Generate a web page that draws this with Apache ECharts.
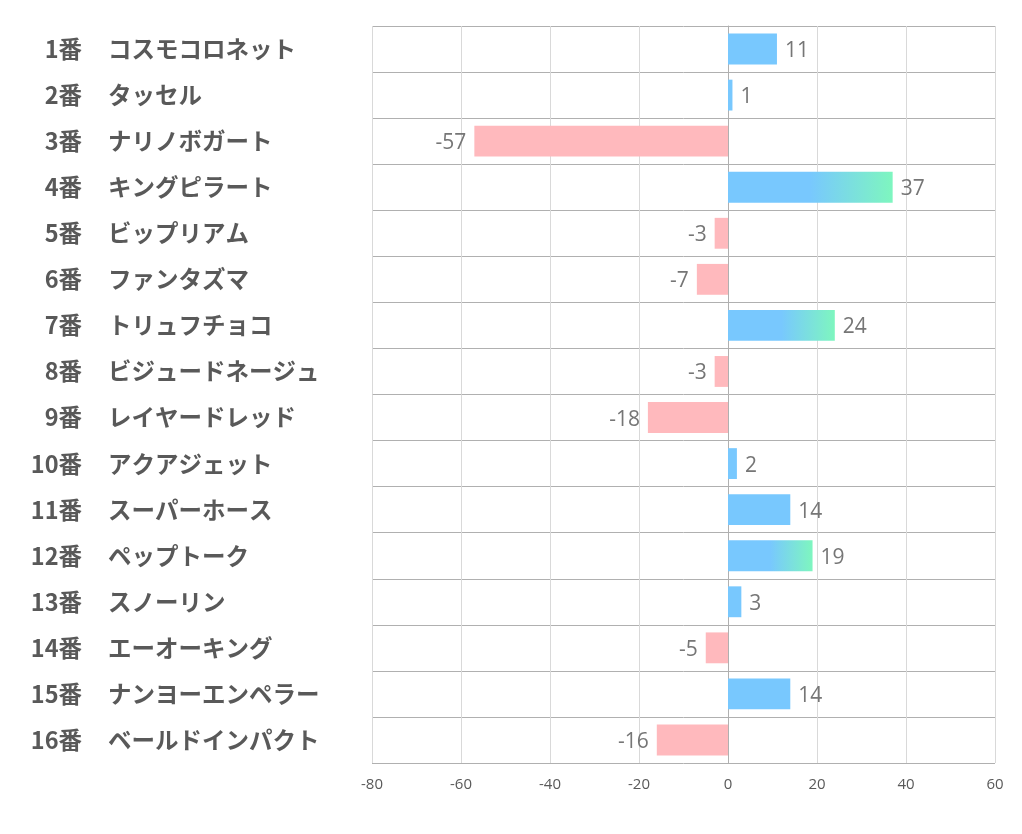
<!DOCTYPE html>
<html>
<head>
<meta charset="utf-8">
<script src="https://cdn.jsdelivr.net/npm/echarts@6/dist/echarts.min.js"></script>
<style>html,body{margin:0;padding:0;background:#fff;}#c{width:1022px;height:834px;}</style>
</head>
<body>
<div id="c"></div>
<script>
const numbers = ["1番","2番","3番","4番","5番","6番","7番","8番","9番","10番","11番","12番","13番","14番","15番","16番"];
const horses = ["コスモコロネット","タッセル","ナリノボガート","キングピラート","ビップリアム","ファンタズマ","トリュフチョコ","ビジュードネージュ","レイヤードレッド","アクアジェット","スーパーホース","ペップトーク","スノーリン","エーオーキング","ナンヨーエンペラー","ベールドインパクト"];
const values = [11, 1, -57, 37, -3, -7, 24, -3, -18, 2, 14, 19, 3, -5, 14, -16];
const xTicks = { min: -80, max: 60, interval: 20 };

const BLUE = '#78c8fe', PINK = '#ffb9bd', GREEN = '#7ef6bf';

const data = values.map(v => {
  let color;
  if (v < 0) color = PINK;
  else if (v >= 15) color = new echarts.graphic.LinearGradient(0, 0, 1, 0, [
    { offset: 0, color: BLUE }, { offset: 0.5, color: BLUE }, { offset: 1, color: GREEN }
  ]);
  else color = BLUE;
  return {
    value: v,
    itemStyle: { color },
    label: { position: v < 0 ? 'left' : 'right' }
  };
});

const labelFont = { fontSize: 23.5, fontWeight: 'bold', color: '#595959', fontFamily: 'Noto Sans CJK JP' };

const chart = echarts.init(document.getElementById('c'));
chart.setOption({
  animation: false,
  grid: { left: 372, right: 27, top: 26, bottom: 71, containLabel: false },
  xAxis: {
    type: 'value', min: xTicks.min, max: xTicks.max, interval: xTicks.interval,
    axisLine: { show: false }, axisTick: { show: false },
    splitLine: { show: true, lineStyle: { color: '#d9d9d9', width: 1 } },
    axisLabel: { color: '#595959', fontSize: 15, margin: 14, fontFamily: 'Open Sans, Noto Sans, sans-serif' }
  },
  yAxis: [{
    type: 'category', inverse: true, data: numbers, position: 'left',
    axisLine: { show: true, lineStyle: { color: '#b0b0b0' } },
    axisTick: { show: false },
    splitLine: { show: true, lineStyle: { color: '#b0b0b0', width: 1 } },
    axisLabel: Object.assign({ align: 'right', margin: 290 }, labelFont)
  }, {
    type: 'category', inverse: true, data: horses, position: 'left', offset: 0,
    axisLine: { show: false }, axisTick: { show: false }, splitLine: { show: false },
    axisLabel: Object.assign({ align: 'left', margin: 264 }, labelFont)
  }],
  series: [{
    type: 'bar', data, barWidth: '67%', yAxisIndex: 0,
    label: { show: true, distance: 8, offset: [0, 2], color: '#767676', fontSize: 21, fontFamily: 'Open Sans, Noto Sans, sans-serif' }
  }]
});
</script>
</body>
</html>
